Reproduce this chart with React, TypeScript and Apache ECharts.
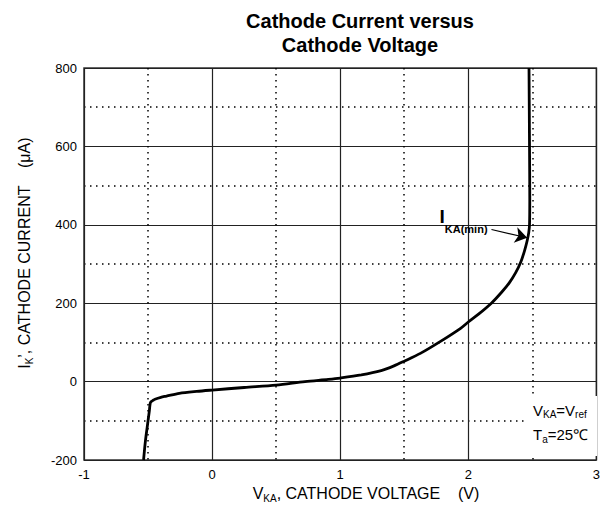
import React, { useEffect, useRef } from 'react';
import * as echarts from 'echarts';

const FONT = '"Liberation Sans", Arial, Helvetica, sans-serif';

// Cathode voltage (V) and cathode current (µA)
const voltage = [-0.535, -0.52, -0.5, -0.49, -0.483, -0.475, -0.462, -0.446, -0.4, -0.356, -0.256, -0.12, 0.0, 0.25, 0.5, 0.725, 0.907, 1.0, 1.165, 1.32, 1.42, 1.5, 1.626, 1.78, 1.94, 2.0, 2.08, 2.18, 2.26, 2.32, 2.37, 2.41, 2.44, 2.46, 2.472, 2.478, 2.48, 2.478, 2.474];
const current = [-200, -150, -100, -75, -55, -51, -48, -45, -40, -37, -30, -25, -21.6, -15, -9, 0, 5.6, 9, 17, 28, 40, 52, 72, 102, 136, 152, 172, 200, 228, 252, 278, 305, 335, 360, 380, 400, 462, 600, 800];

const xRange = [-1, 3];
const yRange = [-200, 800];
const xStep = 1;
const yStep = 200;

// Annotation arrow (I_KA(min)) in data units
const arrowFrom = [2.181, 388];
const arrowTo = [2.46, 367];

const titleLines = ['Cathode Current versus', 'Cathode Voltage'];

let measureCtx: CanvasRenderingContext2D | null = null;
function measure(text: string, font: string): number {
  if (!measureCtx) measureCtx = document.createElement('canvas').getContext('2d');
  measureCtx!.font = font;
  return measureCtx!.measureText(text).width;
}

type Part = [string, boolean];
function richRow(parts: Part[], x: number, y: number, align: 'left' | 'center', mainSize: number, subSize: number, subDrop: number, weight = 'normal', subWeight = 'normal', z = 20): any[] {
  const fonts = parts.map(([, sub]) => `${sub ? subWeight : weight} ${sub ? subSize : mainSize}px ${FONT}`);
  const widths = parts.map(([t], i) => measure(t, fonts[i]));
  const total = widths.reduce((a, b) => a + b, 0);
  let cx = align === 'center' ? x - total / 2 : x;
  return parts.map(([t, sub], i) => {
    const el = {
      type: 'text',
      x: cx,
      y: sub ? y + subDrop : y,
      z,
      style: { text: t, font: fonts[i], fill: '#000', verticalAlign: 'middle', align: 'left' },
    };
    cx += widths[i];
    return el;
  });
}

export default function App() {
  const ref = useRef<HTMLDivElement>(null);
  useEffect(() => {
    if (!ref.current) return;
    const chart = echarts.init(ref.current, undefined, { renderer: 'svg' });
    const data = voltage.map((v, i) => [v, current[i]]);

    const graphics: any[] = [
      {
        type: 'text',
        x: 360,
        y: 9,
        z: 20,
        style: { text: titleLines.join('\n'), font: `bold 20px ${FONT}`, fill: '#000', align: 'center', verticalAlign: 'top', lineHeight: 24 },
      },
      // x-axis title
      ...richRow([['V', false], ['KA', true], [', CATHODE VOLTAGE    (V)', false]], 366, 493, 'center', 16, 10, 5),
      // y-axis title (rotated)
      {
        type: 'group',
        x: 24,
        y: 253,
        rotation: Math.PI / 2,
        children: richRow([['I', false], ['K', true], ['\u2019, CATHODE CURRENT    (\u03bcA)', false]], 0, 0, 'center', 16, 10, 5),
      },
      // legend box on the right
      { type: 'rect', shape: { x: 528, y: 396, width: 69, height: 60 }, style: { fill: '#fff' }, z: 15 },
      ...richRow([['V', false], ['KA', true], ['=V', false], ['ref', true]], 533, 410, 'left', 15, 10, 4),
      ...richRow([['T', false], ['a', true], ['=25\u2103', false]], 533, 434, 'left', 15, 10, 5),
      // I_KA(min) annotation
      ...richRow([['I', false], ['KA(min)', true]], 439.5, 216.5, 'left', 19, 11, 12.5, 'bold', 'bold'),
    ];

    chart.setOption({
      animation: false,
      backgroundColor: '#fff',
      grid: { left: 84, right: 3, top: 68, bottom: 55, show: true, borderColor: '#333', borderWidth: 1.5, backgroundColor: 'transparent' },
      xAxis: {
        type: 'value',
        min: xRange[0],
        max: xRange[1],
        interval: xStep,
        axisLine: { show: false },
        axisTick: { show: false },
        axisLabel: { color: '#000', fontSize: 13, fontFamily: FONT, margin: 8 },
        splitLine: { show: true, lineStyle: { color: '#222', width: 1.2 } },
        minorTick: { show: false, splitNumber: 2 },
        minorSplitLine: { show: true, lineStyle: { color: '#000', width: 1.5, type: [1.5, 4.5] } },
      },
      yAxis: {
        type: 'value',
        min: yRange[0],
        max: yRange[1],
        interval: yStep,
        axisLine: { show: false },
        axisTick: { show: false },
        axisLabel: { color: '#000', fontSize: 13, fontFamily: FONT, margin: 7 },
        splitLine: { show: true, lineStyle: { color: '#222', width: 1.2 } },
        minorTick: { show: false, splitNumber: 2 },
        minorSplitLine: { show: true, lineStyle: { color: '#000', width: 1.5, type: [1.5, 4.5] } },
      },
      series: [
        {
          type: 'line',
          data,
          showSymbol: false,
          smooth: 0.3,
          lineStyle: { color: '#000', width: 2.8 },
          z: 5,
          markLine: {
            silent: true,
            symbol: ['none', 'arrow'],
            symbolSize: 12,
            label: { show: false },
            lineStyle: { color: '#000', width: 1.2, type: 'solid' },
            itemStyle: { color: '#000' },
            z: 6,
            data: [[{ coord: arrowFrom }, { coord: arrowTo }]],
          },
        },
      ],
      graphic: graphics,
    });
    return () => chart.dispose();
  }, []);
  return <div ref={ref} style={{ position: 'absolute', left: 0, top: 0, width: 603, height: 515 }} />;
}
